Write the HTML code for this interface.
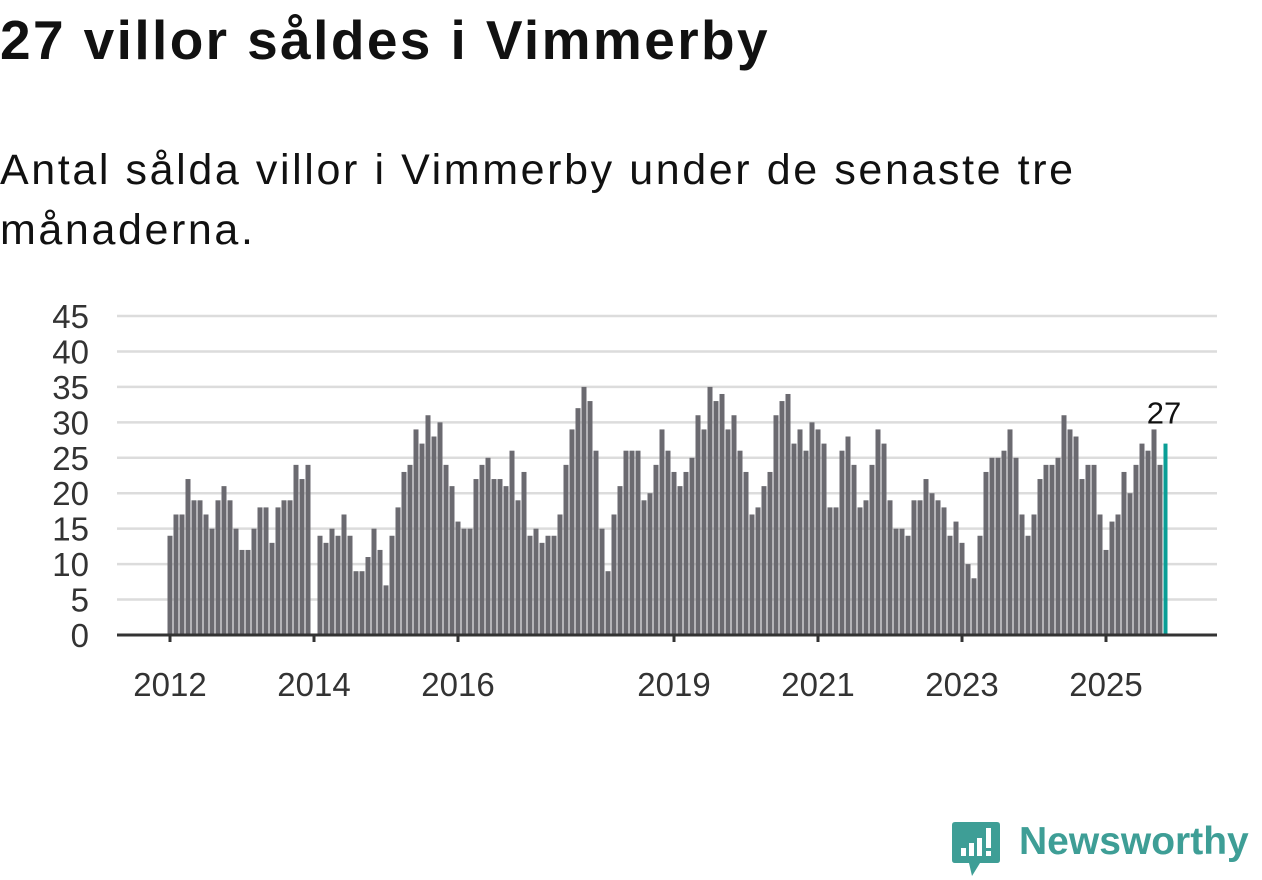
<!DOCTYPE html>
<html><head><meta charset="utf-8"><style>
body{margin:0;width:1262px;height:879px;background:#fff;overflow:hidden;font-family:"Liberation Sans",sans-serif;position:relative}
h1{position:absolute;left:0;top:9px;margin:0;font-size:55px;line-height:62px;font-weight:bold;color:#111;letter-spacing:2.4px;white-space:nowrap}
.sub{position:absolute;left:0;top:140px;margin:0;font-size:43px;line-height:60px;color:#111;width:1100px;letter-spacing:2.6px}
</style></head><body>
<h1>27 villor såldes i Vimmerby</h1>
<p class="sub">Antal sålda villor i Vimmerby under de senaste tre månaderna.</p>
<svg id="chart" width="1262" height="879" style="position:absolute;left:0;top:0"></svg>
<div style="position:absolute;left:952px;top:820px;height:60px">
<svg width="50" height="60" style="position:absolute;left:0;top:0">
<path d="M3 2 H45 Q48 2 48 5 V40 Q48 43 45 43 H28 L20 56 L17 43 H3 Q0 43 0 40 V5 Q0 2 3 2Z" fill="#3e9e96"/>
<rect x="9" y="28" width="5" height="8" fill="#fff"/><rect x="17" y="23" width="5" height="13" fill="#fff"/><rect x="25" y="18" width="5" height="18" fill="#fff"/><rect x="34" y="8" width="5" height="20" fill="#fff"/><rect x="34" y="31" width="5" height="5" fill="#fff"/>
</svg>
<span style="position:absolute;left:67px;top:0px;font-size:39px;font-weight:bold;color:#3e9e96;white-space:nowrap">Newsworthy</span>
</div>
<script>
const years=[2012,2013,2014,2015,2016,2017,2018,2019,2020,2021,2022,2023,2024,2025];
const values=[
14,17,17,22,19,19,17,15,19,21,19,15,
12,12,15,18,18,13,18,19,19,24,22,24,
0,14,13,15,14,17,14,9,9,11,15,12,
7,14,18,23,24,29,27,31,28,30,24,21,
16,15,15,22,24,25,22,22,21,26,19,23,
14,15,13,14,14,17,24,29,32,35,33,26,
15,9,17,21,26,26,26,19,20,24,29,26,
23,21,23,25,31,29,35,33,34,29,31,26,
23,17,18,21,23,31,33,34,27,29,26,30,
29,27,18,18,26,28,24,18,19,24,29,27,
19,15,15,14,19,19,22,20,19,18,14,16,
13,10,8,14,23,25,25,26,29,25,17,14,
17,22,24,24,25,31,29,28,22,24,24,17,
12,16,17,23,20,24,27,26,29,24,27];
const yTicks=[0,5,10,15,20,25,30,35,40,45];
const xTickLabels=["2012","2014","2016","2019","2021","2023","2025"];
const NS="http://www.w3.org/2000/svg";
const svg=document.getElementById('chart');
const y0=635,yTop=316,yMax=45;
const y=v=>y0-(v/yMax)*(y0-yTop);
const x=i=>170+i*6;
function mk(t,a){const e=document.createElementNS(NS,t);for(const k in a)e.setAttribute(k,a[k]);svg.appendChild(e);return e;}
yTicks.forEach(t=>{
  if(t>0){const g=mk('line',{x1:117,x2:1217,y1:y(t),y2:y(t),stroke:'#dcdcdc','stroke-width':2.5});
  
  }
  const l=mk('text',{x:89,y:y(t)+12,'text-anchor':'end','font-size':33,fill:'#333','font-family':'Liberation Sans, sans-serif'});
  l.textContent=t;
  
  
});
values.forEach((v,i)=>{
  const last=i===values.length-1;
  const r=mk('rect',{x:x(i)-2.5,y:y(v),width:last?4:5,height:y0-y(v),fill:last?'#0a9e96':'#6b6a70'});
  
  
});
const li=values.length-1;
const lab=mk('text',{x:x(li)-2,y:y(values[li])-20,'text-anchor':'middle','font-size':31,fill:'#111','font-family':'Liberation Sans, sans-serif'});
lab.textContent=values[li];


const ax=mk('line',{x1:117,x2:1217,y1:y0,y2:y0,stroke:'#333','stroke-width':3});


xTickLabels.forEach(s=>{
  const idx=(parseInt(s)-years[0])*12;
  const tk=mk('line',{x1:x(idx),x2:x(idx),y1:y0,y2:y0+7,stroke:'#333','stroke-width':3});
  
  
  const t=mk('text',{x:x(idx),y:696,'text-anchor':'middle','font-size':33,fill:'#333','font-family':'Liberation Sans, sans-serif'});
  t.textContent=s;
  
  
});
</script>
</body></html>
